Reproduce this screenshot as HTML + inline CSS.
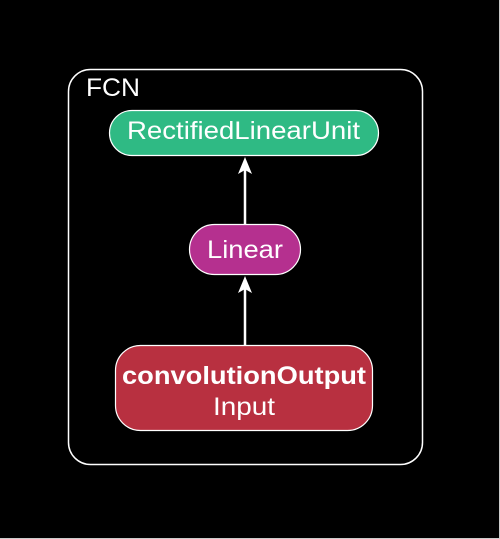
<!DOCTYPE html>
<html><head><style>
html,body{margin:0;padding:0;background:#000;}
svg{display:block;}
text{font-family:"Liberation Sans",sans-serif;fill:#fff;}
</style></head><body>
<svg width="500" height="539" viewBox="0 0 500 539">
<rect x="0" y="0" width="500" height="539" fill="#000"/>
<line x1="499.5" y1="0" x2="499.5" y2="539" stroke="#ccc" stroke-width="1"/>
<line x1="0" y1="538.5" x2="500" y2="538.5" stroke="#ccc" stroke-width="1"/>
<rect x="68.5" y="69.5" width="354" height="395" rx="22" fill="none" stroke="#fff" stroke-width="1.5"/>
<text x="86" y="96" font-size="25" textLength="54" lengthAdjust="spacingAndGlyphs">FCN</text>
<rect x="109.5" y="110.5" width="269" height="45" rx="22.5" fill="#2fba84" stroke="#fff" stroke-width="1.2"/>
<text x="127" y="139" font-size="25" textLength="233" lengthAdjust="spacingAndGlyphs">RectifiedLinearUnit</text>
<rect x="189.5" y="224.5" width="111" height="50" rx="25" fill="#b5308f" stroke="#fff" stroke-width="1.2"/>
<text x="207" y="258" font-size="25" textLength="76" lengthAdjust="spacingAndGlyphs">Linear</text>
<rect x="115.5" y="345.5" width="257" height="85" rx="25" fill="#b83040" stroke="#fff" stroke-width="1.2"/>
<text x="122" y="384" font-size="25" font-weight="bold" textLength="244" lengthAdjust="spacingAndGlyphs">convolutionOutput</text>
<text x="213" y="415" font-size="25" textLength="62" lengthAdjust="spacingAndGlyphs">Input</text>
<line x1="245" y1="345" x2="245" y2="286" stroke="#fff" stroke-width="2.5"/>
<polygon points="245,276 238,293 245,289 252,293" fill="#fff"/>
<line x1="245" y1="224" x2="245" y2="167" stroke="#fff" stroke-width="2.5"/>
<polygon points="245,157 238,174 245,170 252,174" fill="#fff"/>
</svg>
</body></html>
